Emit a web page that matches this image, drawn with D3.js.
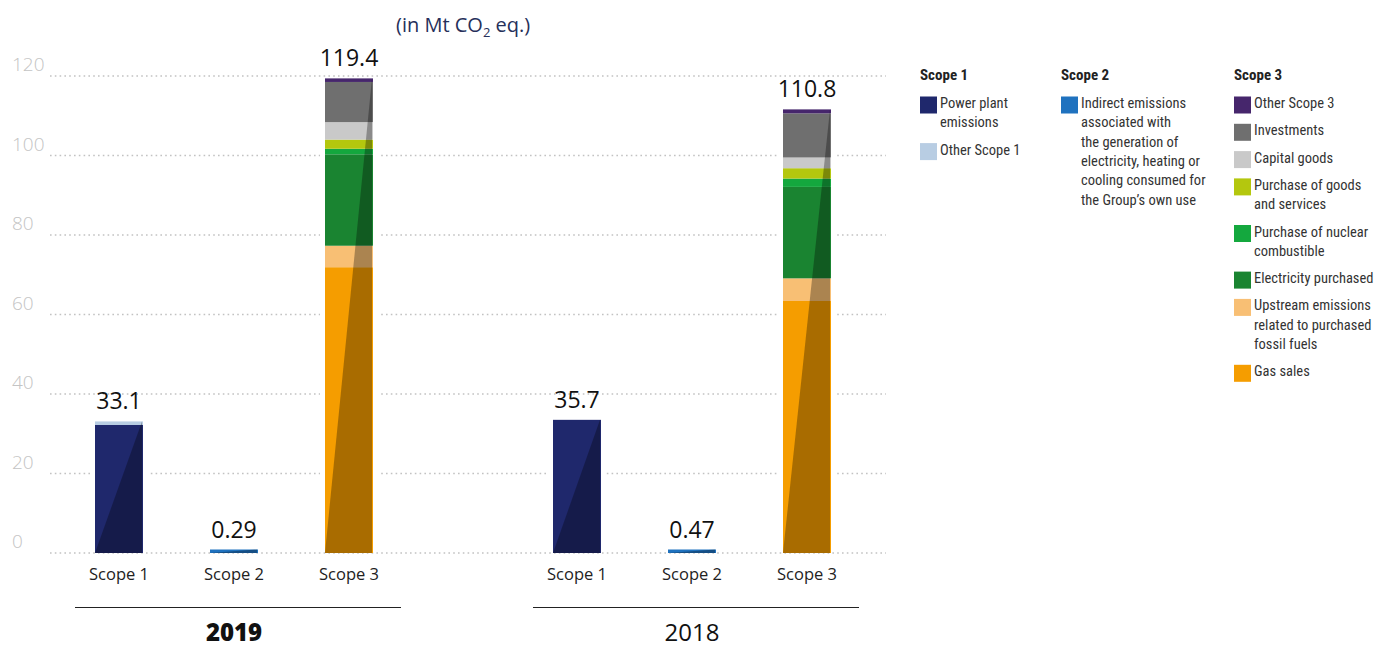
<!DOCTYPE html>
<html>
<head>
<meta charset="utf-8">
<script src="https://cdn.jsdelivr.net/npm/d3@7"></script>
<style>
  body { margin: 0; background: #fff; }
  svg { display: block; }
</style>
</head>
<body>
<div id="chart"></div>
<script>
// data (Mt CO2 eq.)
const years = ["2019", "2018"];
const scopes = ["Scope 1", "Scope 2", "Scope 3"];
const totalLabels2019 = ["33.1", "0.29", "119.4"];
const totalLabels2018 = ["35.7", "0.47", "110.8"];

// stack order = bottom to top
const scope1Series = ["Power plant\nemissions", "Other Scope 1"];
const scope1Values2019 = [32.2, 0.9];
const scope1Values2018 = [33.5, 0];

const scope2Series = ["Indirect emissions\nassociated with\nthe generation of\nelectricity, heating or\ncooling consumed for\nthe Group\u2019s own use"];
const scope2Values2019 = [0.29];
const scope2Values2018 = [0.47];

const scope3Series = ["Gas sales", "Upstream emissions\nrelated to purchased\nfossil fuels", "Electricity purchased",
  "Purchase of nuclear\ncombustible", "Purchase of goods\nand services", "Capital goods", "Investments", "Other Scope 3"];
const scope3Values2019 = [71.9, 5.4, 23.0, 1.4, 2.3, 4.4, 10.1, 0.9];
const scope3Values2018 = [63.4, 5.7, 23.0, 2.1, 2.6, 2.7, 11.1, 1.0];

const yTicks = [0, 20, 40, 60, 80, 100, 120];

const colors = {
  "Power plant\nemissions": "#1f286c",
  "Other Scope 1": "#b8cde3",
  [scope2Series[0]]: "#1f72bf",
  "Gas sales": "#f59d00",
  "Upstream emissions\nrelated to purchased\nfossil fuels": "#f8bf74",
  "Electricity purchased": "#1a8431",
  "Purchase of nuclear\ncombustible": "#14a83e",
  "Purchase of goods\nand services": "#b4c70e",
  "Capital goods": "#c9c9c9",
  "Investments": "#6f6f6f",
  "Other Scope 3": "#46266c"
};

const W = 1378, H = 649;
const svg = d3.select("#chart").append("svg").attr("width", W).attr("height", H);

const y = d3.scaleLinear().domain([0, 120]).range([553, 76]);
const xYear = d3.scaleBand().domain(years).range([71, 71 + 2 * 458]).paddingInner(0).paddingOuter(0);
const xScope = d3.scaleBand().domain(scopes).range([0, 326]).paddingInner(67 / 115).paddingOuter(0.2087);

// gridlines + tick labels
svg.append("g").selectAll("line").data(yTicks).join("line")
  .attr("x1", 50).attr("x2", 886)
  .attr("y1", d => y(d)).attr("y2", d => y(d))
  .attr("stroke", "#c2c2c2").attr("stroke-width", 1.6)
  .attr("stroke-dasharray", "1.6,3.2");

svg.append("g").selectAll("text").data(yTicks).join("text")
  .attr("x", 12).attr("y", d => y(d) - 5)
  .attr("font-family", "'Open Sans', sans-serif").attr("font-size", 19)
  .attr("fill", "#c4c4c4").attr("font-weight", 300)
  .text(d => d);

// unit title
const title = svg.append("text").attr("x", 396).attr("y", 32)
  .attr("font-family", "'Open Sans', sans-serif").attr("font-size", 20).attr("fill", "#26305a");
title.append("tspan").text("(in Mt CO");
title.append("tspan").attr("font-size", 13).attr("dy", 5).text("2");
title.append("tspan").attr("dy", -5).text(" eq.)");

// build bar list
const bars = [];
years.forEach((yr, yi) => {
  const s1 = yi === 0 ? scope1Values2019 : scope1Values2018;
  const s2 = yi === 0 ? scope2Values2019 : scope2Values2018;
  const s3 = yi === 0 ? scope3Values2019 : scope3Values2018;
  const labels = yi === 0 ? totalLabels2019 : totalLabels2018;
  [[scope1Series, s1], [scope2Series, s2], [scope3Series, s3]].forEach(([series, vals], si) => {
    let acc = 0;
    const segs = series.map((name, i) => {
      const seg = { name: name, y0: acc, y1: acc + vals[i] };
      acc += vals[i];
      return seg;
    });
    bars.push({ year: yr, scope: scopes[si], segs: segs, total: acc, label: labels[si] });
  });
});

const barX = d => xYear(d.year) + xScope(d.scope);
const bw = xScope.bandwidth();
const MIN_H = 3.5;
const topY = d => Math.min(y(d.total), y(0) - MIN_H);

const barG = svg.append("g").selectAll("g").data(bars).join("g");

// white backing so the dotted lines stop short of the bars
barG.append("rect")
  .attr("x", d => barX(d) - 5).attr("width", bw + 10)
  .attr("y", d => topY(d) - 1).attr("height", d => y(0) - topY(d))
  .attr("fill", "#fff");

barG.selectAll("rect.seg").data(d => d.segs.map(s => Object.assign({ bar: d }, s)).filter(s => s.y1 > s.y0))
  .join("rect").attr("class", "seg")
  .attr("x", s => barX(s.bar)).attr("width", bw)
  .attr("y", s => s.bar.total * 3.975 < MIN_H ? y(0) - MIN_H : y(s.y1))
  .attr("height", s => s.bar.total * 3.975 < MIN_H ? MIN_H : y(s.y0) - y(s.y1))
  .attr("fill", s => colors[s.name]);

// diagonal shading
barG.append("path")
  .attr("d", d => {
    const x0 = barX(d), x1 = barX(d) + bw, yb = y(0), yt = topY(d);
    return `M${x0},${yb}L${x1 - 1},${yt}L${x1 - 1},${yb}Z`;
  })
  .attr("fill", "#000").attr("fill-opacity", 0.31);

// total labels
barG.append("text")
  .attr("x", d => barX(d) + bw / 2).attr("y", d => topY(d) - 12)
  .attr("text-anchor", "middle")
  .attr("font-family", "'Open Sans', sans-serif").attr("font-size", 23).attr("fill", "#111")
  .text(d => d.label);

// scope labels
barG.append("text")
  .attr("x", d => barX(d) + bw / 2).attr("y", 580)
  .attr("text-anchor", "middle")
  .attr("font-family", "'Open Sans', sans-serif").attr("font-size", 16.5).attr("fill", "#222")
  .text(d => d.scope);

// year group rules and labels
const yearG = svg.append("g").selectAll("g").data(years).join("g");
yearG.append("line")
  .attr("x1", d => xYear(d) + 4).attr("x2", d => xYear(d) + 330)
  .attr("y1", 607.5).attr("y2", 607.5)
  .attr("stroke", "#222").attr("stroke-width", 1.2);
yearG.append("text")
  .attr("x", d => xYear(d) + 163).attr("y", 641)
  .attr("text-anchor", "middle")
  .attr("font-family", "'Open Sans', sans-serif").attr("font-size", 24)
  .attr("font-weight", (d, i) => i === 0 ? 800 : 400).attr("fill", "#111")
  .text(d => d);

// legend
const legendFont = "'Liberation Sans Narrow', 'Roboto Condensed', Roboto, sans-serif";
const legendCols = [
  { title: "Scope 1", x: 920, items: scope1Series.slice() },
  { title: "Scope 2", x: 1061, items: scope2Series.slice() },
  { title: "Scope 3", x: 1234, items: scope3Series.slice().reverse() }
];
legendCols.forEach(col => {
  const g = svg.append("g");
  g.append("text").attr("x", col.x).attr("y", 80)
    .attr("font-family", legendFont).attr("font-size", 15).attr("font-weight", 700).attr("fill", "#222")
    .text(col.title);
  let yy = 96.5;
  col.items.forEach(name => {
    const lines = name.split("\n");
    g.append("rect").attr("x", col.x).attr("y", yy).attr("width", 17).attr("height", 17)
      .attr("fill", colors[name]);
    const t = g.append("text").attr("x", col.x + 20).attr("y", yy + 11.5)
      .attr("font-family", legendFont).attr("font-size", 14.5).attr("fill", "#333");
    lines.forEach((ln, i) => {
      t.append("tspan").attr("x", col.x + 20).attr("dy", i === 0 ? 0 : 19.3).text(ln);
    });
    yy += 8 + 19.3 * lines.length;
  });
});
</script>
</body>
</html>
